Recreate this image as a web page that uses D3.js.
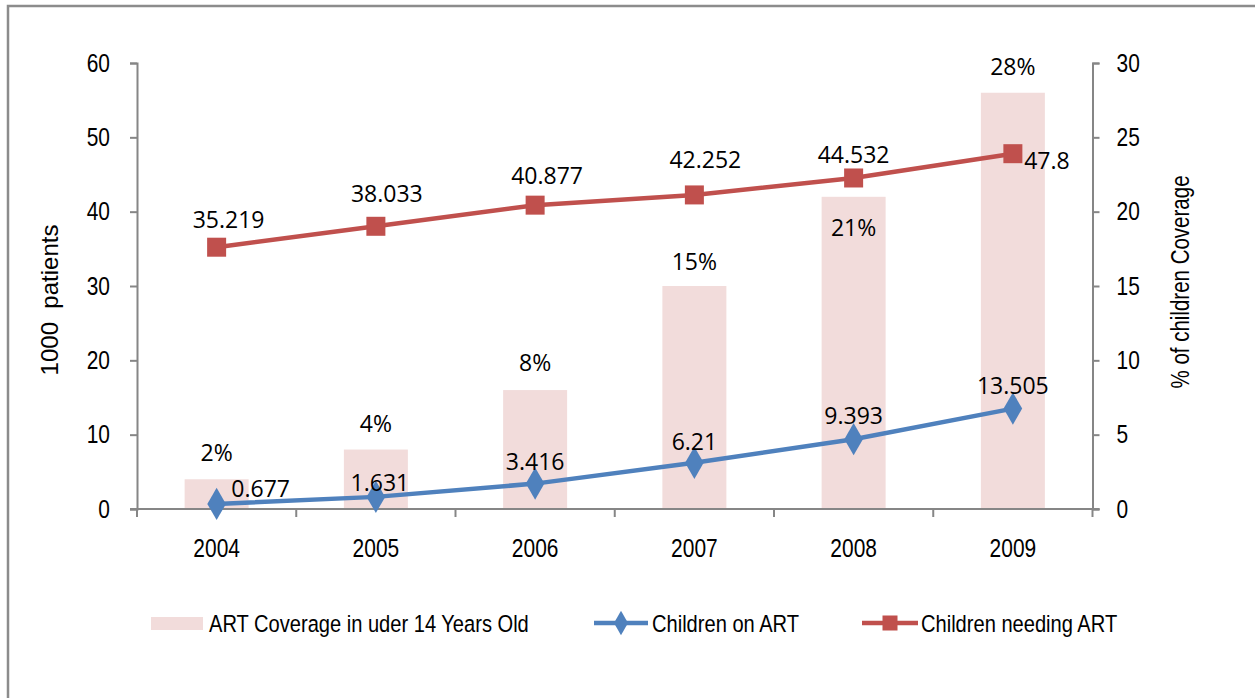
<!DOCTYPE html>
<html><head><meta charset="utf-8">
<script src="https://cdn.jsdelivr.net/npm/d3@7"></script>
<style>body{margin:0;background:#fff}svg{display:block}</style>
</head><body>
<svg id="c" width="1255" height="698"></svg>
<script>
const years = ["2004","2005","2006","2007","2008","2009"];
const coverage = [2,4,8,15,21,28];
const onART = [0.677,1.631,3.416,6.21,9.393,13.505];
const needingART = [35.219,38.033,40.877,42.252,44.532,47.8];
const leftTicks = [0,10,20,30,40,50,60];
const rightTicks = [0,5,10,15,20,25,30];
const legendLabels = ["ART Coverage in uder 14 Years Old","Children on ART","Children needing ART"];

// label offsets (layout only)
const covOff = [[0,-27],[0,-27],[0,-28],[0,-25],[0,30],[0,-27]];
const onOff = [[44,-16],[4,-15],[0,-23],[0,-22],[0,-24],[0,-24]];
const needOff = [[12,-28],[11,-33],[12,-30],[11,-36],[0,-24],[34,6]];

const svg = d3.select("#c");
const axisFont = "'Liberation Sans', Arial, sans-serif";
const labFont = "'Open Sans', sans-serif";
const M = {l:137, r:1092.5, t:63, b:509};
// emulate a narrow (condensed) face by compressing text horizontally
function narrow(sel, f){
  sel.each(function(){
    const L = this.getComputedTextLength();
    this.setAttribute("textLength", L*f);
    this.setAttribute("lengthAdjust","spacingAndGlyphs");
  });
}
const NF = 0.82;

svg.append("rect").attr("x",8).attr("y",6).attr("width",1260).attr("height",700)
  .attr("fill","none").attr("stroke","#8c8c8c").attr("stroke-width",2.5);

const x = d3.scaleBand().domain(years).range([M.l,M.r]);
const yL = d3.scaleLinear().domain([0,60]).range([M.b,M.t]);
const yR = d3.scaleLinear().domain([0,30]).range([M.b,M.t]);

// bars
const bw = 64;
svg.append("g").selectAll("rect").data(coverage).join("rect")
  .attr("x",(d,i)=>x(years[i])+x.bandwidth()/2-bw/2).attr("width",bw)
  .attr("y",d=>yR(d)).attr("height",d=>yR(0)-yR(d)).attr("fill","#f2dcdb");

// axes
const gL = svg.append("g").attr("transform",`translate(${M.l},0)`)
  .call(d3.axisLeft(yL).tickValues(leftTicks).tickSize(7).tickPadding(20));
const gR = svg.append("g").attr("transform",`translate(${M.r},0)`)
  .call(d3.axisRight(yR).tickValues(rightTicks).tickSize(7).tickPadding(17));
const gX = svg.append("g").attr("transform",`translate(0,${M.b})`)
  .call(d3.axisBottom(x).tickSize(0).tickPadding(30));
[gL,gR,gX].forEach(g=>{
  g.selectAll("path.domain").attr("stroke","#868686").attr("stroke-width",2);
  g.selectAll("line").attr("stroke","#868686").attr("stroke-width",2);
  g.selectAll("text").attr("font-family",axisFont).attr("font-size",25.5).attr("fill","#000");
  narrow(g.selectAll("text"), NF);
});
gX.select("path.domain").attr("d",`M${M.l-7},0H${M.r+7}`);
// category boundary ticks
gX.append("g").selectAll("line").data(d3.range(years.length+1)).join("line")
  .attr("x1",i=>M.l+i*x.step()).attr("x2",i=>M.l+i*x.step())
  .attr("y1",0).attr("y2",8).attr("stroke","#868686").attr("stroke-width",2);

// axis titles
svg.append("text").attr("transform",`translate(58,300) rotate(-90)`)
  .attr("text-anchor","middle").attr("font-family",axisFont).attr("font-size",24)
  .attr("xml:space","preserve").text("1000  patients");
svg.append("text").attr("transform",`translate(1189,282) rotate(-90)`)
  .attr("text-anchor","middle").attr("font-family",axisFont).attr("font-size",25)
  .text("% of children Coverage").call(s=>narrow(s,NF));

// lines
const cx = i=>x(years[i])+x.bandwidth()/2;
const lineL = d3.line().x((d,i)=>cx(i)).y(d=>yL(d));
svg.append("path").datum(needingART).attr("d",lineL).attr("fill","none")
  .attr("stroke","#c0504d").attr("stroke-width",4.5);
svg.append("path").datum(onART).attr("d",lineL).attr("fill","none")
  .attr("stroke","#4f81bd").attr("stroke-width",4.5);
svg.append("g").selectAll("rect").data(needingART).join("rect")
  .attr("x",(d,i)=>cx(i)-9.5).attr("y",d=>yL(d)-9.5).attr("width",19).attr("height",19)
  .attr("fill","#c0504d");
const dia = d3.symbol().type(d3.symbolDiamond).size(300);
svg.append("g").selectAll("path").data(onART).join("path")
  .attr("transform",(d,i)=>`translate(${cx(i)},${yL(d)})`).attr("d",dia).attr("fill","#4f81bd");

// data labels
function labels(data, yS, off, fmt){
  svg.append("g").selectAll("text").data(data).join("text")
    .attr("x",(d,i)=>cx(i)+off[i][0]).attr("y",(d,i)=>yS(d)+off[i][1])
    .attr("text-anchor","middle").attr("dominant-baseline","central")
    .attr("font-family",labFont).attr("font-size",23).attr("fill","#000").text(fmt);
}
labels(coverage, yR, covOff, d=>d+"%");
labels(onART, yL, onOff, d=>String(d));
labels(needingART, yL, needOff, d=>String(d));

// legend
const lg = svg.append("g").attr("font-family",axisFont).attr("font-size",24.5);
lg.append("rect").attr("x",151).attr("y",617).attr("width",52).attr("height",13).attr("fill","#f2dcdb");
lg.append("text").attr("x",209).attr("y",623).attr("dominant-baseline","central").text(legendLabels[0]);
lg.append("line").attr("x1",594).attr("x2",648).attr("y1",623).attr("y2",623).attr("stroke","#4f81bd").attr("stroke-width",4.5);
lg.append("path").attr("transform","translate(621,623)").attr("d",d3.symbol().type(d3.symbolDiamond).size(170)).attr("fill","#4f81bd");
lg.append("text").attr("x",652).attr("y",623).attr("dominant-baseline","central").text(legendLabels[1]);
lg.append("line").attr("x1",862).attr("x2",918).attr("y1",623).attr("y2",623).attr("stroke","#c0504d").attr("stroke-width",4.5);
lg.append("rect").attr("x",882.5).attr("y",615.5).attr("width",15).attr("height",15).attr("fill","#c0504d");
lg.append("text").attr("x",921).attr("y",623).attr("dominant-baseline","central").text(legendLabels[2]);
narrow(lg.selectAll("text"), NF);
</script>
</body></html>
